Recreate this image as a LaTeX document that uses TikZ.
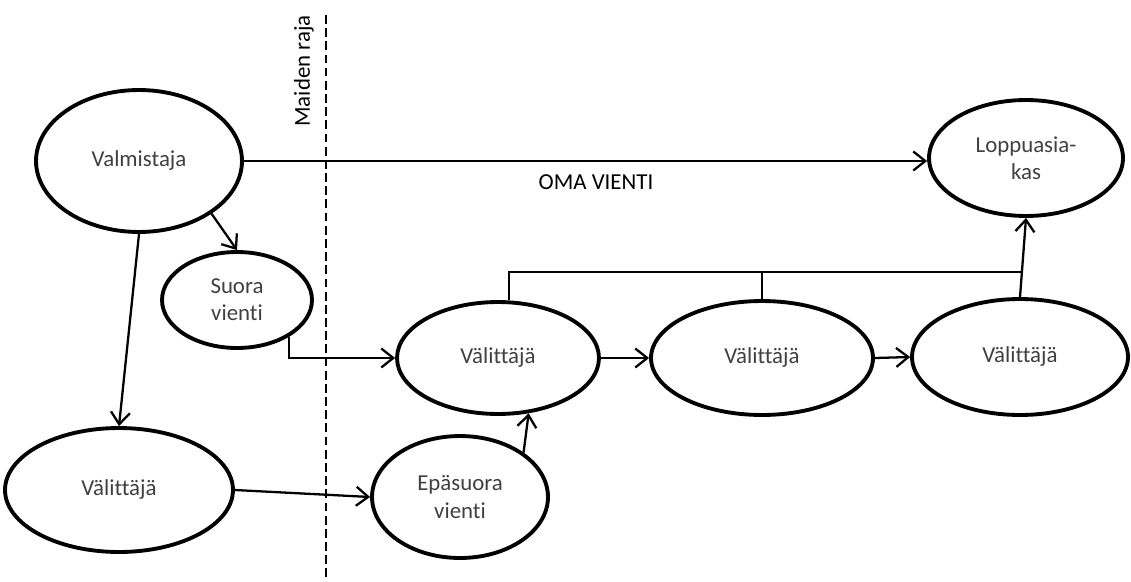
\documentclass[tikz,border=0pt]{standalone}
\usepackage{fontspec}
\setmainfont{Carlito}[Ligatures=NoCommon]
\usepackage{tikz}
\usetikzlibrary{shapes.geometric}
\usetikzlibrary{arrows.meta}
\usetikzlibrary{calc}

\begin{document}
\begin{tikzpicture}[x=0.02cm,y=-0.02cm]

%\draw[help lines] (0,0) grid (1131,581);

% Define block styles
\tikzstyle{toimija}=[draw, ellipse, line width=2.2pt, inner sep=0pt,
  align=center, text=black!75, font=\fontsize{13}{15.5}\selectfont]
\tikzstyle{line} = [draw, line width=1.3pt,
  -{Straight Barb[length=2.4mm,width=3.8mm]}]
\tikzstyle{plain} = [draw, line width=1.3pt]
\tikzstyle{raja} = [draw, line width=0.9pt, dash pattern=on 5pt off 2.5pt]
\tikzstyle{texto} = [font=\fontsize{13}{15.5}\selectfont]

\useasboundingbox (0,0) rectangle (1131,581);

% Draw diagram elements
\path node at (139,161) (valm) [toimija, minimum width=4.12cm,
  minimum height=2.84cm] {Valmistaja};
\path node at (1026,158) (lopp) [toimija, minimum width=3.88cm,
  minimum height=2.32cm] {Loppuasia-\\kas};
\path node at (237,300) (suora) [toimija, minimum width=3.0cm,
  minimum height=1.92cm] {Suora\\vienti};
\path node at (498,358) (v1) [toimija, minimum width=4.04cm,
  minimum height=2.24cm] {Välittäjä};
\path node at (762,358) (v2) [toimija, minimum width=4.44cm,
  minimum height=2.28cm] {Välittäjä};
\path node at (1020,357) (v3) [toimija, minimum width=4.32cm,
  minimum height=2.32cm] {Välittäjä};
\path node at (119,490) (vala) [toimija, minimum width=4.56cm,
  minimum height=2.48cm] {Välittäjä};
\path node at (460,497) (epa) [toimija, minimum width=3.52cm,
  minimum height=2.44cm] {Epäsuora\\vienti};

% Border between countries
\coordinate (rajaY) at (326,15);
\coordinate (rajaA) at (326,581);
\path [raja] (rajaY) -- (rajaA);
\path node at (304,71) (rajateksti) [texto, rotate=90] {Maiden raja};

% Connectors
\path [line] (valm.east) -- (valm.east -| lopp.west);
\path node at (596,182) (oma) [texto] {OMA VIENTI};
\path [line] (valm.-36) -- (suora.north);
\path [line] (valm.south) -- (vala.north);
\path [line] (vala.east) -- (epa.west);
\path [line] (suora.-35) |- (v1.west);
\path [line] (epa.35) -- (v1.-61);
\path [line] (v1.east) -- (v2.west);
\path [line] (v2.east) -- (v3.west);
\path [line] (v3.north) -- (lopp.south);
\coordinate (vayla) at ($(v3.north)!0.32!(lopp.south)$);
\path [plain] (v1.79) |- (vayla);
\path [plain] (v2.north) -- (v2.north |- vayla);

\end{tikzpicture}
\end{document}
